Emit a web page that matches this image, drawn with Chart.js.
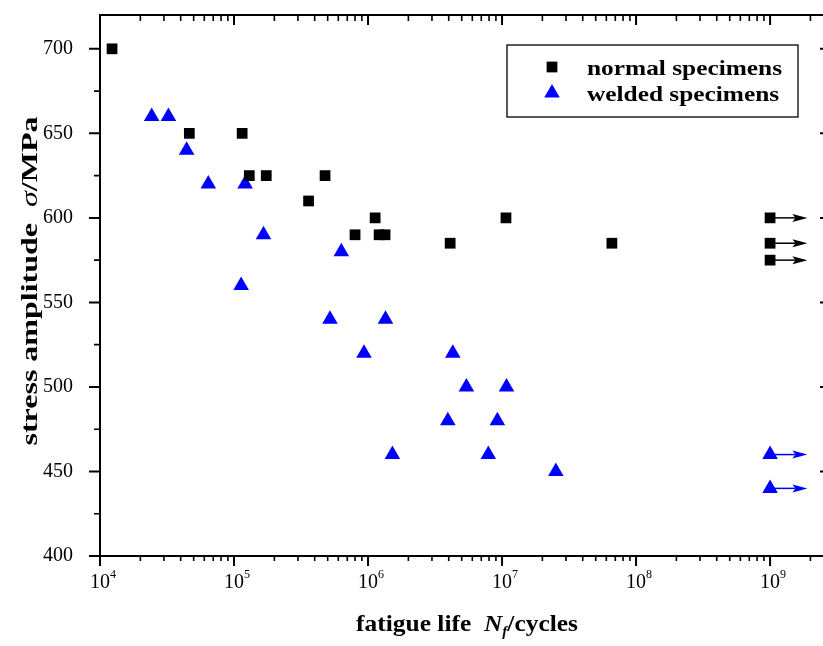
<!DOCTYPE html>
<html>
<head>
<meta charset="utf-8">
<script src="https://cdn.jsdelivr.net/npm/chart.js@4/dist/chart.umd.min.js"></script>
<style>
  html, body { margin: 0; padding: 0; background: #fff; overflow: hidden; }
  canvas { display: block; }
</style>
</head>
<body>
<canvas id="sn" width="830" height="646"></canvas>
<script>
// Fatigue test results: cycles to failure and stress amplitude (MPa)
const normalLife   = [1.23e4, 4.64e4, 1.15e5, 1.30e5, 1.74e5, 3.6e5, 4.78e5, 8.0e5, 1.13e6, 1.21e6, 1.34e6, 4.1e6, 1.07e7, 6.6e7];
const normalStress = [700, 650, 650, 625, 625, 610, 625, 590, 600, 590, 590, 585, 600, 585];

const weldedLife   = [2.43e4, 3.24e4, 4.43e4, 6.43e4, 1.21e5, 1.66e5, 1.13e5, 6.32e5, 5.2e5, 1.35e6,
                      9.33e5, 4.29e6, 5.42e6, 1.08e7, 3.94e6, 9.23e6, 1.52e6, 7.9e6, 2.52e7];
const weldedStress = [660, 660, 640, 620, 620, 590, 560, 580, 540, 540,
                      520, 520, 500, 500, 480, 480, 460, 460, 450];

// Run-outs: specimens that did not fail by 1e9 cycles (drawn with arrows)
const runoutLife = 1e9;
const arrowTipLife = 1.9e9;
const normalRunoutStress = [600, 585, 575];
const weldedRunoutStress = [460, 440];

// Axis ranges and tick spacing
const xMin = 1e4, xMax = 2.8e9;
const yMin = 400, yMax = 720, yStep = 25, yLabelStep = 50;

const seriesLabels = ['normal specimens', 'welded specimens'];
const seriesColors = ['#000000', '#0000ff'];

const SERIF = '"Liberation Serif", "Times New Roman", serif';

function toPoints(xs, ys) { return xs.map((v, i) => ({ x: v, y: ys[i] })); }
function runoutPoints(ys) { return ys.map(v => ({ x: runoutLife, y: v })); }

// Draw a sequence of differently styled text runs, optionally stretched horizontally
function drawRuns(ctx, runs, x, y, align, sx) {
  let w = 0;
  runs.forEach(r => { ctx.font = r.font; r.w = ctx.measureText(r.text).width; w += r.w; });
  ctx.save();
  ctx.translate(x, y);
  ctx.scale(sx || 1, 1);
  ctx.textAlign = 'left';
  ctx.textBaseline = 'alphabetic';
  let cx = align === 'center' ? -w / 2 : 0;
  runs.forEach(r => { ctx.font = r.font; ctx.fillText(r.text, cx, r.dy || 0); cx += r.w; });
  ctx.restore();
  return w;
}
function runsWidth(ctx, runs) {
  let w = 0;
  runs.forEach(r => { ctx.font = r.font; w += ctx.measureText(r.text).width; });
  return w;
}

function mantissa(v) {
  const e = Math.floor(Math.log10(v) + 1e-9);
  return { m: v / Math.pow(10, e), e };
}

function noScalePadding(scale) {
  scale.paddingTop = 0; scale.paddingBottom = 0;
  scale.paddingLeft = 0; scale.paddingRight = 0;
}

// Run-out arrows, drawn beneath the markers
const runoutArrows = {
  id: 'runoutArrows',
  beforeDatasetsDraw(chart) {
    const { ctx, scales: { x, y } } = chart;
    const groups = [[normalRunoutStress, seriesColors[0]], [weldedRunoutStress, seriesColors[1]]];
    ctx.save();
    groups.forEach(([list, color]) => {
      list.forEach(s => {
        const x0 = x.getPixelForValue(runoutLife);
        const tip = x.getPixelForValue(arrowTipLife);
        const py = y.getPixelForValue(s);
        ctx.strokeStyle = color; ctx.fillStyle = color; ctx.lineWidth = 1.5;
        ctx.beginPath(); ctx.moveTo(x0, py); ctx.lineTo(tip - 12, py); ctx.stroke();
        ctx.beginPath();
        ctx.moveTo(tip, py);
        ctx.lineTo(tip - 15, py - 4);
        ctx.lineTo(tip - 12, py);
        ctx.lineTo(tip - 15, py + 4);
        ctx.closePath(); ctx.fill();
      });
    });
    ctx.restore();
  }
};

// Frame, mirrored tick marks, decade labels and axis titles
const frameAndAxes = {
  id: 'frameAndAxes',
  afterDraw(chart) {
    const { ctx, chartArea: a, scales: { x, y } } = chart;
    ctx.save();
    ctx.strokeStyle = '#000';
    ctx.fillStyle = '#000';
    ctx.lineWidth = 2;
    ctx.strokeRect(a.left, a.top, a.right - a.left, a.bottom - a.top);

    // x ticks (bottom outward, top inward)
    x.ticks.forEach(t => {
      const { m } = mantissa(t.value);
      if (Math.abs(m - Math.round(m)) > 1e-6) return;
      const px = x.getPixelForValue(t.value);
      if (px > a.right - 1) return;
      const major = Math.round(m) === 1 || Math.round(m) === 10;
      ctx.lineWidth = major ? 2 : 1.6;
      ctx.beginPath();
      ctx.moveTo(px, a.bottom); ctx.lineTo(px, a.bottom + (major ? 10 : 5));
      ctx.moveTo(px, a.top); ctx.lineTo(px, a.top + (major ? 10 : 6));
      ctx.stroke();
      if (major) {
        const exp = Math.round(Math.log10(t.value));
        ctx.font = '20px ' + SERIF;
        ctx.textAlign = 'center'; ctx.textBaseline = 'alphabetic';
        ctx.fillText('10', px, 588);
        const w10 = ctx.measureText('10').width;
        ctx.font = '12px ' + SERIF;
        ctx.textAlign = 'left';
        ctx.fillText(String(exp), px + w10 / 2, 578);
      }
    });

    // y ticks (left outward, right inward)
    y.ticks.forEach(t => {
      if (t.value % yStep !== 0) return;
      const py = y.getPixelForValue(t.value);
      if (py < a.top + 1) return;
      const major = t.value % yLabelStep === 0;
      ctx.lineWidth = major ? 2 : 1.6;
      ctx.beginPath();
      ctx.moveTo(a.left, py); ctx.lineTo(a.left - (major ? 11 : 6), py);
      ctx.moveTo(a.right, py); ctx.lineTo(a.right - (major ? 10 : 5), py);
      ctx.stroke();
    });

    // x axis title
    const xRuns = [
      { text: 'fatigue life  ', font: 'bold 24px ' + SERIF },
      { text: 'N', font: 'italic bold 24px ' + SERIF },
      { text: 'f', font: 'italic bold 14px ' + SERIF, dy: 5 },
      { text: '/cycles', font: 'bold 24px ' + SERIF }
    ];
    const xsx = 222 / runsWidth(ctx, xRuns);
    drawRuns(ctx, xRuns, 467, 631, 'center', xsx);

    // y axis title (rotated)
    const yRuns = [
      { text: 'stress amplitude  ', font: 'bold 24px ' + SERIF },
      { text: 'σ', font: 'italic 24px ' + SERIF },
      { text: '/MPa', font: 'bold 24px ' + SERIF }
    ];
    const ysx = 329 / runsWidth(ctx, yRuns);
    ctx.save();
    ctx.translate(37, 281);
    ctx.rotate(-Math.PI / 2);
    drawRuns(ctx, yRuns, 0, 0, 'center', ysx);
    ctx.restore();

    ctx.restore();
  }
};

// Legend box inside the plot area
const insetLegend = {
  id: 'insetLegend',
  afterDraw(chart) {
    const { ctx } = chart;
    ctx.save();
    ctx.fillStyle = '#fff';
    ctx.fillRect(507, 45, 291, 72);
    ctx.strokeStyle = '#000';
    ctx.lineWidth = 1.3;
    ctx.strokeRect(507, 45, 291, 72);
    const rows = [67, 93];
    const font = 'bold 22px ' + SERIF;
    ctx.font = font;
    const sx = 195 / ctx.measureText(seriesLabels[0]).width;
    chart.data.datasets.forEach((ds, i) => {
      ctx.fillStyle = ds.backgroundColor;
      ctx.strokeStyle = ds.backgroundColor;
      Chart.helpers.drawPoint(ctx, { pointStyle: ds.pointStyle, radius: ds.pointRadius, rotation: 0, borderWidth: 0 }, 552, rows[i]);
      ctx.fillStyle = '#000';
      drawRuns(ctx, [{ text: ds.label, font }], 587, rows[i] + 8, 'left', sx);
    });
    ctx.restore();
  }
};

new Chart(document.getElementById('sn'), {
  type: 'scatter',
  data: {
    datasets: [
      {
        label: seriesLabels[0],
        data: toPoints(normalLife, normalStress).concat(runoutPoints(normalRunoutStress)),
        pointStyle: 'rect',
        pointRadius: 7.6,
        backgroundColor: seriesColors[0],
        borderColor: seriesColors[0],
        borderWidth: 0
      },
      {
        label: seriesLabels[1],
        data: toPoints(weldedLife, weldedStress).concat(runoutPoints(weldedRunoutStress)),
        pointStyle: 'triangle',
        pointRadius: 9,
        backgroundColor: seriesColors[1],
        borderColor: seriesColors[1],
        borderWidth: 0
      }
    ]
  },
  options: {
    responsive: false,
    animation: false,
    events: [],
    layout: { autoPadding: false, padding: { top: 15, right: 0, left: 0, bottom: 0 } },
    plugins: { legend: { display: false }, tooltip: { enabled: false } },
    scales: {
      x: {
        type: 'logarithmic',
        position: 'bottom',
        min: xMin,
        max: xMax,
        grid: { display: false },
        border: { display: false },
        ticks: { display: false },
        afterFit(scale) { scale.height = 90; noScalePadding(scale); }
      },
      y: {
        type: 'linear',
        position: 'left',
        min: yMin,
        max: yMax,
        grid: { display: false },
        border: { display: false },
        ticks: {
          stepSize: yStep,
          padding: 19,
          color: '#000',
          font: { family: SERIF, size: 20 },
          callback: v => (v % yLabelStep === 0 ? String(v) : '')
        },
        afterFit(scale) { scale.width = 100; noScalePadding(scale); }
      }
    }
  },
  plugins: [runoutArrows, frameAndAxes, insetLegend]
});
</script>
</body>
</html>
